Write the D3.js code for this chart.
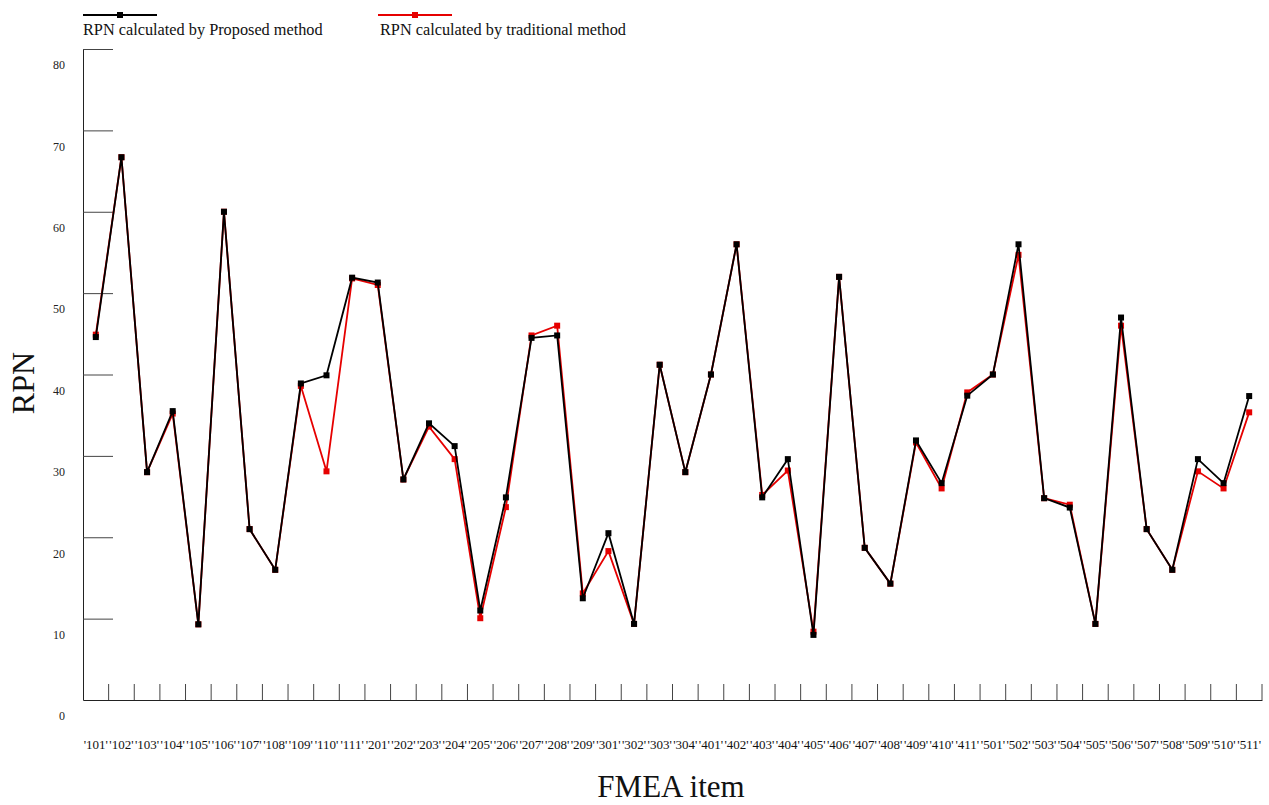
<!DOCTYPE html>
<html>
<head>
<meta charset="utf-8">
<script src="https://cdn.jsdelivr.net/npm/d3@7"></script>
<style>
  body { margin: 0; background: #fff; }
  svg { display: block; }
  text { font-family: "Liberation Serif", "DejaVu Serif", serif; }
</style>
</head>
<body>
<svg id="chart" width="1269" height="805"></svg>
<script>
const categories = ["101","102","103","104","105","106","107","108","109","110","111",
  "201","202","203","204","205","206","207","208","209",
  "301","302","303","304",
  "401","402","403","404","405","406","407","408","409","410","411",
  "501","502","503","504","505","506","507","508","509","510","511"];

const proposed = [44.6, 66.7, 28.0, 35.5, 9.3, 60.0, 21.0, 16.0, 38.9, 39.9, 51.9,
  51.3, 27.1, 34.0, 31.2, 11.0, 24.9, 44.5, 44.8, 12.5,
  20.5, 9.35, 41.2, 28.0,
  40.0, 56.0, 24.9, 29.6, 8.0, 52.0, 18.7, 14.3, 31.9, 26.65, 37.4,
  40.0, 56.0, 24.8, 23.65, 9.35, 47.0, 21.0, 16.0, 29.6, 26.65, 37.35];

const traditional = [44.9, 66.7, 28.0, 35.2, 9.3, 60.0, 21.0, 16.0, 38.6, 28.1, 51.8,
  51.0, 27.1, 33.6, 29.6, 10.05, 23.7, 44.8, 46.0, 13.1,
  18.3, 9.35, 41.2, 28.0,
  40.0, 56.0, 25.2, 28.2, 8.4, 52.0, 18.7, 14.3, 31.65, 26.0, 37.8,
  40.0, 54.7, 24.8, 24.0, 9.35, 46.0, 21.0, 16.0, 28.1, 26.0, 35.35];

const yTicks = [0, 10, 20, 30, 40, 50, 60, 70, 80];
const seriesNames = ["RPN calculated by Proposed method", "RPN calculated by traditional method"];
const xTitle = "FMEA item";
const yTitle = "RPN";

const svg = d3.select("#chart");
const mLeft = 83, mRight = 1262, mTop = 49, mBottom = 700;

const x = d3.scaleBand().domain(categories).range([mLeft, mRight]).padding(0);
const y = d3.scaleLinear().domain([0, 80]).range([mBottom, mTop]);

// Y axis
const yAxis = d3.axisLeft(y).tickValues(yTicks).tickSizeInner(-30).tickSizeOuter(0).tickPadding(18);
const yg = svg.append("g").attr("transform", `translate(${mLeft},0)`).call(yAxis);
yg.select(".domain").attr("stroke", "#222").attr("stroke-width", 1);
yg.selectAll(".tick line").attr("stroke", "#444").attr("stroke-width", 1);
yg.selectAll(".tick").filter(d => d === 0).select("line").remove();
yg.selectAll(".tick text")
  .attr("y", 16)
  .attr("fill", "#222")
  .style("font-family", "'Liberation Serif', serif")
  .style("font-size", "12px");

// X axis
const xAxis = d3.axisBottom(x).tickSize(0).tickPadding(40).tickFormat(d => "'" + d + "'");
const xg = svg.append("g").attr("transform", `translate(0,${mBottom})`).call(xAxis);
xg.select(".domain").attr("stroke", "#222").attr("stroke-width", 1);
xg.selectAll(".tick text")
  .attr("fill", "#111")
  .style("font-family", "'Liberation Serif', serif")
  .style("font-size", "13px");

// boundary ticks pointing upward
svg.append("g").selectAll("line")
  .data(categories)
  .join("line")
  .attr("x1", d => x(d) + x.bandwidth())
  .attr("x2", d => x(d) + x.bandwidth())
  .attr("y1", mBottom)
  .attr("y2", mBottom - 16)
  .attr("stroke", "#444")
  .attr("stroke-width", 1);

// lines
const cx = d => x(d) + x.bandwidth() / 2;
const line = d3.line().x((v, i) => cx(categories[i])).y(v => y(v));

const series = [
  { name: seriesNames[1], values: traditional, color: "#e60000" },
  { name: seriesNames[0], values: proposed, color: "#000000" }
];

series.forEach(s => {
  svg.append("path")
    .attr("d", line(s.values))
    .attr("fill", "none")
    .attr("stroke", s.color)
    .attr("stroke-width", 1.8);
  svg.append("g").selectAll("rect")
    .data(s.values)
    .join("rect")
    .attr("x", (v, i) => cx(categories[i]) - 3)
    .attr("y", v => y(v) - 3)
    .attr("width", 6)
    .attr("height", 6)
    .attr("fill", s.color);
});

// Legend
const legend = [
  { name: seriesNames[0], color: "#000000", x0: 83, tx: 83 },
  { name: seriesNames[1], color: "#e60000", x0: 378, tx: 380 }
];
legend.forEach(l => {
  svg.append("line")
    .attr("x1", l.x0).attr("x2", l.x0 + 74)
    .attr("y1", 15).attr("y2", 15)
    .attr("stroke", l.color).attr("stroke-width", 2);
  svg.append("rect")
    .attr("x", l.x0 + 37 - 3).attr("y", 12)
    .attr("width", 6).attr("height", 6)
    .attr("fill", l.color);
  svg.append("text")
    .attr("x", l.tx).attr("y", 35)
    .attr("fill", "#111")
    .style("font-size", "16.3px")
    .text(l.name);
});

// Titles
svg.append("text")
  .attr("x", 671).attr("y", 797)
  .attr("text-anchor", "middle")
  .attr("fill", "#111")
  .style("font-size", "31px")
  .text(xTitle);

svg.append("text")
  .attr("transform", "translate(34,383) rotate(-90)")
  .attr("text-anchor", "middle")
  .attr("fill", "#111")
  .style("font-size", "32px")
  .text(yTitle);
</script>
</body>
</html>
